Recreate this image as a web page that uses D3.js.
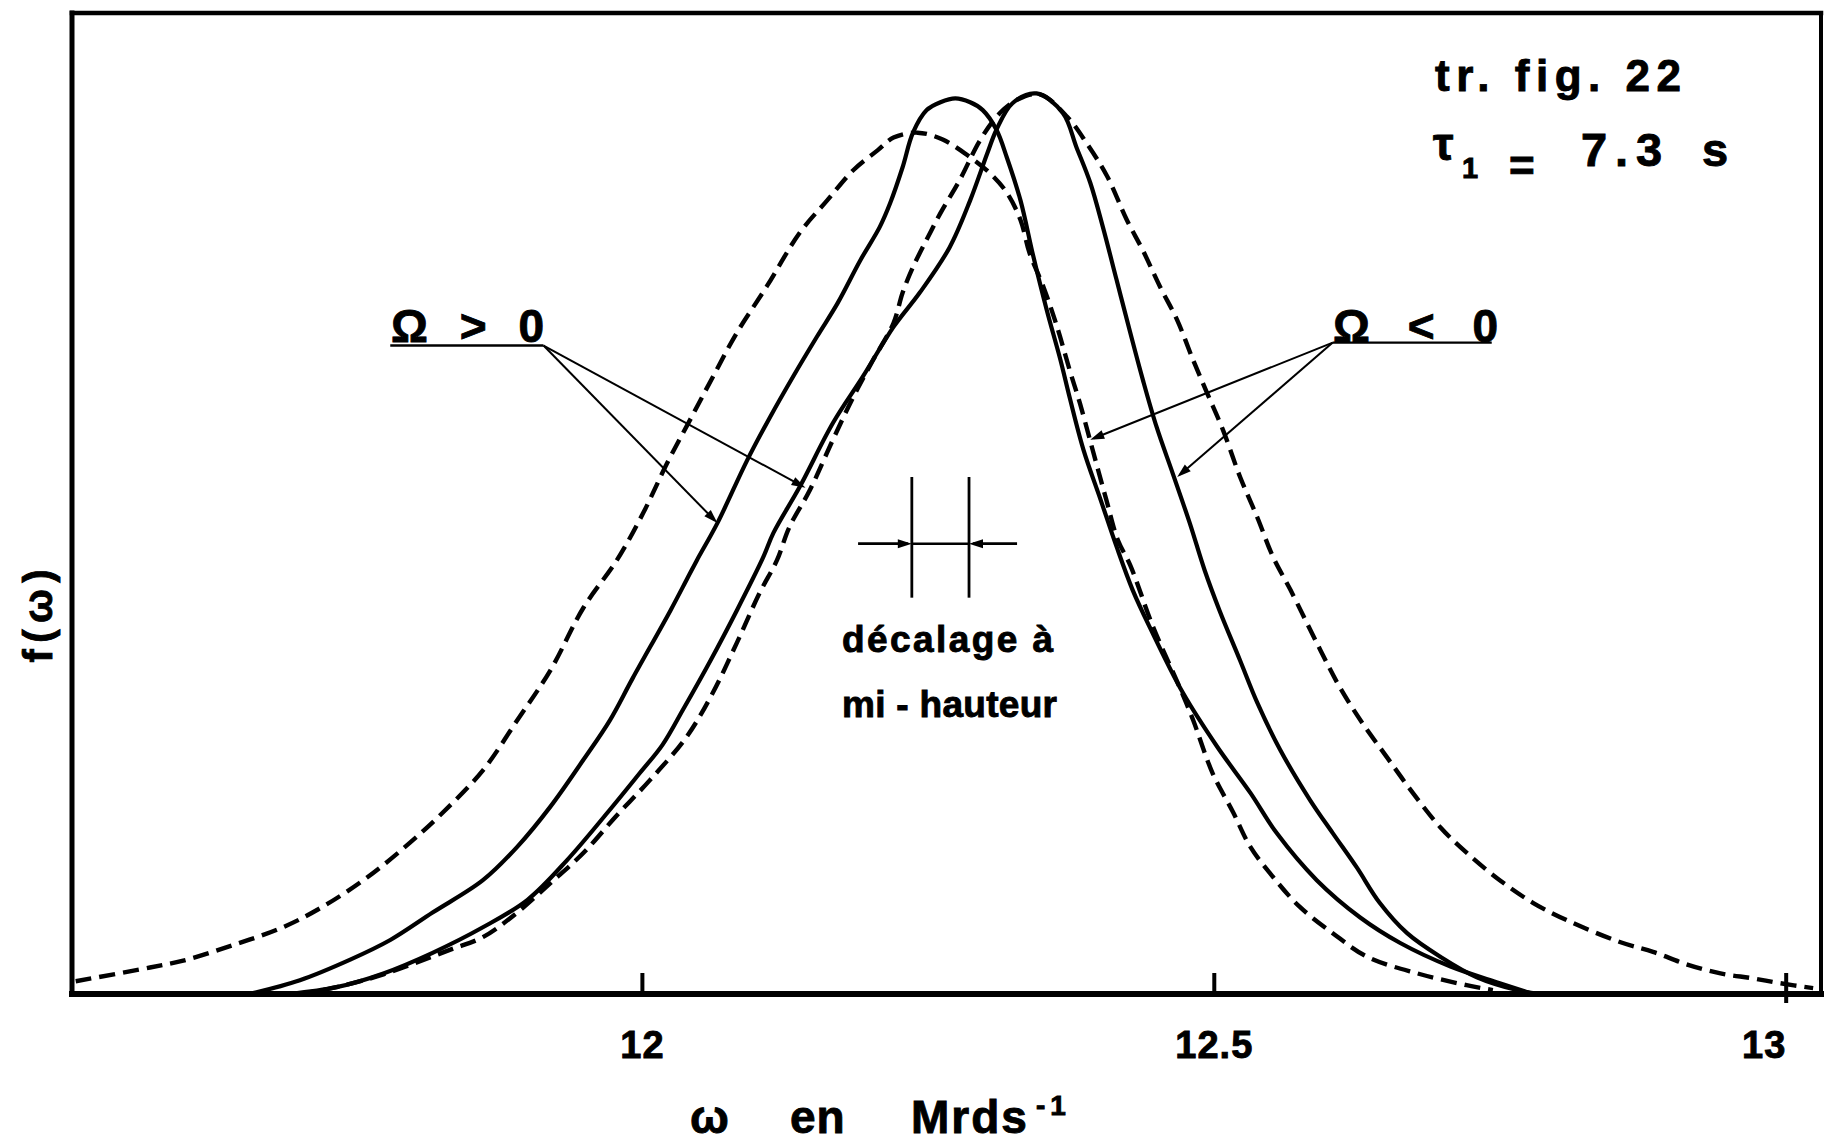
<!DOCTYPE html>
<html>
<head>
<meta charset="utf-8">
<script src="https://cdn.jsdelivr.net/npm/d3@7"></script>
<style>
  html, body { margin: 0; padding: 0; background: #fff; }
  svg { display: block; }
  text { font-family: "Liberation Sans", Arial, sans-serif; font-weight: bold; fill: #000;
         stroke: #000; stroke-width: 0.9px; paint-order: stroke; }
</style>
</head>
<body>
<svg id="chart" width="1824" height="1143"></svg>
<script>
// Line profiles f(ω), ω in Mrd s^-1, f in arbitrary units (0..100 = frame height)

// Ω > 0, measured profile (solid)
const omegaPlusSolid = [11.657, 11.701, 11.745, 11.780, 11.817, 11.861, 11.891, 11.920, 11.949, 11.972,
  11.992, 12.025, 12.039, 12.048, 12.066, 12.092, 12.112, 12.132, 12.153, 12.171, 12.191,
  12.208, 12.217, 12.228, 12.237, 12.249, 12.261, 12.274, 12.287, 12.298, 12.310, 12.319, 12.331,
  12.342, 12.354, 12.366, 12.374, 12.386, 12.401, 12.415, 12.429, 12.444, 12.473, 12.503, 12.532,
  12.555, 12.590, 12.628, 12.663, 12.707, 12.750, 12.779];
const fPlusSolid = [0, 1.4, 3.5, 5.5, 8.3, 11.6, 15.0, 19.1, 23.9, 27.9,
  32.2, 39.1, 42.2, 44.2, 48.0, 54.4, 58.8, 62.9, 67.0, 70.4, 74.8,
  78.2, 80.6, 84.3, 87.8, 90.1, 90.9, 91.3, 90.9, 90.1, 88.1, 85.3, 80.9,
  75.3, 69.7, 64.6, 60.8, 55.5, 50.4, 45.6, 41.2, 37.4, 30.7, 25.2, 20.5,
  16.4, 11.6, 7.8, 5.2, 2.8, 1.1, 0];

// Ω < 0, measured profile (solid)
const omegaMinusSolid = [11.692, 11.733, 11.774, 11.817, 11.861, 11.900, 11.935, 11.970, 11.998, 12.018,
  12.036, 12.060, 12.083, 12.106, 12.115, 12.138, 12.167, 12.193, 12.220, 12.243, 12.269, 12.287,
  12.302, 12.310, 12.324, 12.345, 12.368, 12.380, 12.392, 12.403, 12.415, 12.427, 12.438, 12.450,
  12.464, 12.479, 12.492, 12.505, 12.523, 12.538, 12.558, 12.584, 12.604, 12.625, 12.645, 12.669,
  12.698, 12.730, 12.765, 12.785];
const fMinusSolid = [0, 0.7, 2.1, 4.2, 6.8, 9.6, 13.7, 18.5, 22.5, 25.4,
  29.0, 34.0, 39.1, 44.5, 47.0, 51.7, 58.2, 62.9, 68.0, 71.5, 76.1, 80.9,
  85.7, 88.1, 90.8, 91.8, 89.8, 86.3, 82.7, 78.2, 72.8, 67.4, 62.6, 57.8,
  53.1, 48.0, 43.2, 39.1, 34.0, 29.7, 24.9, 19.8, 16.4, 12.9, 9.3, 6.2,
  3.8, 1.7, 0.4, 0];

// Ω > 0, computed profile (dashed)
const omegaPlusDashed = [11.505, 11.570, 11.599, 11.643, 11.686, 11.721, 11.760, 11.797, 11.826, 11.861,
  11.891, 11.920, 11.949, 11.978, 12.001, 12.022, 12.042, 12.062, 12.083, 12.109, 12.138, 12.162,
  12.185, 12.206, 12.220, 12.241, 12.263, 12.287, 12.304, 12.319, 12.331, 12.339, 12.351, 12.363,
  12.374, 12.383, 12.394, 12.406, 12.416, 12.427, 12.447, 12.470, 12.482, 12.499, 12.517, 12.532,
  12.552, 12.575, 12.604, 12.634, 12.678, 12.721, 12.744];
const fPlusDashed = [1.3, 2.7, 3.4, 5.0, 6.8, 8.9, 11.9, 15.4, 18.5, 22.8,
  27.9, 33.0, 39.4, 44.2, 49.0, 54.1, 58.5, 62.9, 67.4, 72.1, 77.6, 80.9,
  84.0, 86.0, 87.3, 87.8, 87.1, 85.3, 83.7, 81.7, 78.9, 75.5, 72.1, 68.0,
  63.6, 60.2, 55.5, 50.4, 46.3, 43.7, 37.4, 31.3, 27.9, 22.5, 18.5, 15.0,
  11.9, 8.9, 6.2, 3.8, 2.1, 0.9, 0.4];

// Ω < 0, computed profile (dashed)
const omegaMinusDashed = [11.701, 11.733, 11.774, 11.832, 11.861, 11.891, 11.920, 11.949, 11.978, 12.007,
  12.039, 12.062, 12.083, 12.103, 12.118, 12.129, 12.147, 12.167, 12.185, 12.202, 12.220, 12.228,
  12.237, 12.249, 12.261, 12.278, 12.296, 12.313, 12.329, 12.348, 12.372, 12.389, 12.407, 12.424,
  12.438, 12.453, 12.468, 12.482, 12.494, 12.508, 12.523, 12.538, 12.552, 12.567, 12.593, 12.610,
  12.630, 12.651, 12.674, 12.698, 12.721, 12.750, 12.779, 12.809, 12.855, 12.884, 12.914, 12.943,
  12.971, 12.995, 13.024];
const fMinusDashed = [0, 0.7, 2.0, 4.5, 5.8, 8.3, 11.3, 14.4, 18.2, 21.8,
  26.2, 30.7, 35.8, 40.9, 44.2, 47.6, 51.4, 56.5, 60.9, 64.6, 68.4, 71.5,
  74.1, 76.9, 79.6, 83.0, 87.1, 89.8, 91.2, 91.7, 89.4, 86.7, 83.3, 78.9,
  75.8, 72.1, 68.7, 64.6, 61.3, 57.5, 52.7, 48.6, 44.5, 41.2, 35.1, 31.3,
  27.6, 24.2, 20.5, 17.0, 14.4, 11.6, 9.3, 7.5, 5.3, 4.3, 3.0, 2.1,
  1.6, 1.1, 0.6];

// Axis ticks
const xTicks = [12, 12.5, 13];
const xTickLabels = ["12", "12.5", "13"];

// Annotation anchors (ω, f)
const plusLabelUnderline = [11.780, 11.914];   // at f = plusArrowFrom[1]
const plusArrowFrom = [11.914, 66.1];
const plusArrowTo = [[12.066, 48.0], [12.143, 51.6]];
const minusLabelUnderline = [12.604, 12.743];
const minusArrowFrom = [12.604, 66.4];
const minusArrowTo = [[12.392, 56.5], [12.468, 52.7]];
const halfWidthMarks = [12.236, 12.286];        // vertical bars
const halfWidthSpan = [40.4, 52.7];              // vertical extent of the bars
const halfWidthLevel = 45.9;                     // half of the peak height
const halfWidthArrowStarts = [12.189, 12.328];

const svg = d3.select("#chart");
const frame = { left: 72, right: 1821, top: 13, bottom: 994 };

const x = d3.scaleLinear().domain([11.5, 13.03]).range([70, 1820]);
const y = d3.scaleLinear().domain([0, 100]).range([994, 13]);

const line = d3.line()
  .x(d => x(d[0]))
  .y(d => y(d[1]))
  .curve(d3.curveCatmullRom.alpha(0.5));

const series = [
  { om: omegaPlusDashed,  f: fPlusDashed,  dashed: true },
  { om: omegaMinusDashed, f: fMinusDashed, dashed: true },
  { om: omegaPlusSolid,   f: fPlusSolid,   dashed: false },
  { om: omegaMinusSolid,  f: fMinusSolid,  dashed: false }
];

svg.append("g").selectAll("path")
  .data(series)
  .join("path")
  .attr("d", s => line(s.om.map((w, i) => [w, s.f[i]])))
  .attr("fill", "none")
  .attr("stroke", "#000")
  .attr("stroke-width", s => s.dashed ? 4.4 : 4.2)
  .attr("stroke-dasharray", s => s.dashed ? "16,8" : null)
  .attr("stroke-linejoin", "round");

// Frame
const fr = svg.append("g").attr("stroke", "#000").attr("fill", "none").attr("stroke-linecap", "square");
fr.append("line").attr("x1", frame.left).attr("x2", frame.right).attr("y1", frame.top).attr("y2", frame.top).attr("stroke-width", 4.5);
fr.append("line").attr("x1", frame.left).attr("x2", frame.left).attr("y1", frame.top).attr("y2", frame.bottom).attr("stroke-width", 5);
fr.append("line").attr("x1", frame.right).attr("x2", frame.right).attr("y1", frame.top).attr("y2", frame.bottom).attr("stroke-width", 4);
fr.append("line").attr("x1", frame.left).attr("x2", frame.right + 2).attr("y1", frame.bottom).attr("y2", frame.bottom).attr("stroke-width", 6);

// Bottom axis: ticks point inward
const xAxis = d3.axisBottom(x)
  .tickValues(xTicks)
  .tickFormat(d => xTickLabels[xTicks.indexOf(d)])
  .tickSizeInner(-21)
  .tickSizeOuter(0);

const gx = svg.append("g")
  .attr("transform", `translate(0,${frame.bottom})`)
  .call(xAxis);
gx.attr("font-family", null).attr("font-size", null);
gx.select(".domain").remove();
gx.selectAll(".tick line").attr("stroke", "#000").attr("stroke-width", 4);
gx.selectAll(".tick text")
  .attr("y", 64).attr("dy", 0)
  .attr("font-size", 38)
  .attr("letter-spacing", 1)
  .attr("fill", "#000");
gx.selectAll(".tick").filter(d => d === xTicks[xTicks.length - 1])
  .call(t => t.select("line").attr("y1", 9))
  .call(t => t.select("text").attr("dx", -22));

// Axis titles
svg.append("text")
  .attr("transform", "translate(52,616) rotate(-90)")
  .attr("text-anchor", "middle")
  .attr("font-size", 40)
  .attr("textLength", 93)
  .attr("lengthAdjust", "spacing")
  .text("f(ω)");

const xt = svg.append("text").attr("y", 1133).attr("font-size", 46);
xt.append("tspan").attr("x", 690).text("ω");
xt.append("tspan").attr("x", 790).attr("letter-spacing", 1).text("en");
xt.append("tspan").attr("x", 911).attr("letter-spacing", 2).text("Mrds");
xt.append("tspan").attr("x", 1036).attr("y", 1115).attr("font-size", 28).attr("letter-spacing", 5).text("-1");

// Figure reference and relaxation time
svg.append("text")
  .attr("x", 1435).attr("y", 91)
  .attr("font-size", 44)
  .attr("textLength", 246)
  .attr("lengthAdjust", "spacing")
  .text("tr. fig. 22");

const tau = svg.append("text").attr("font-size", 47);
tau.append("tspan").attr("x", 1433).attr("y", 160).attr("font-size", 46).text("τ");
tau.append("tspan").attr("x", 1462).attr("y", 178).attr("font-size", 29).text("1");
tau.append("tspan").attr("x", 1509).attr("y", 181).attr("font-size", 44).text("=");
tau.append("tspan").attr("x", 1581).attr("y", 166).text("7");
tau.append("tspan").attr("x", 1615).attr("y", 166).text(".");
tau.append("tspan").attr("x", 1636).attr("y", 166).text("3");
tau.append("tspan").attr("x", 1702).attr("y", 166).text("s");

// Ω labels with underline and pointer arrows
svg.append("text")
  .attr("x", 391).attr("y", 342)
  .attr("font-size", 46)
  .attr("textLength", 153)
  .attr("lengthAdjust", "spacing")
  .text("Ω > 0");
svg.append("text")
  .attr("x", 1333).attr("y", 342)
  .attr("font-size", 46)
  .attr("textLength", 165)
  .attr("lengthAdjust", "spacing")
  .text("Ω < 0");

const ann = svg.append("g").attr("stroke", "#000").attr("fill", "#000");

ann.append("line")
  .attr("x1", x(plusLabelUnderline[0])).attr("x2", x(plusLabelUnderline[1]))
  .attr("y1", y(plusArrowFrom[1])).attr("y2", y(plusArrowFrom[1]))
  .attr("stroke-width", 2.4);
ann.append("line")
  .attr("x1", x(minusLabelUnderline[0])).attr("x2", x(minusLabelUnderline[1]))
  .attr("y1", y(minusArrowFrom[1])).attr("y2", y(minusArrowFrom[1]))
  .attr("stroke-width", 2.4);

function arrow(from, to, width) {
  const x0 = x(from[0]), y0 = y(from[1]);
  const x1 = x(to[0]), y1 = y(to[1]);
  const a = Math.atan2(y1 - y0, x1 - x0);
  const len = 14, hw = 4.5;
  ann.append("line")
    .attr("x1", x0).attr("y1", y0)
    .attr("x2", x1 - Math.cos(a) * 4).attr("y2", y1 - Math.sin(a) * 4)
    .attr("stroke-width", width);
  const bx = x1 - Math.cos(a) * len, by = y1 - Math.sin(a) * len;
  const px = -Math.sin(a) * hw, py = Math.cos(a) * hw;
  ann.append("path")
    .attr("d", `M${x1},${y1}L${bx + px},${by + py}L${bx - px},${by - py}Z`)
    .attr("stroke", "none");
}

plusArrowTo.forEach(t => arrow(plusArrowFrom, t, 2));
minusArrowTo.forEach(t => arrow(minusArrowFrom, t, 2));

// Half-height shift marker
halfWidthMarks.forEach(w => {
  ann.append("line")
    .attr("x1", x(w)).attr("x2", x(w))
    .attr("y1", y(halfWidthSpan[1])).attr("y2", y(halfWidthSpan[0]))
    .attr("stroke-width", 2.8);
});
ann.append("line")
  .attr("x1", x(halfWidthMarks[0])).attr("x2", x(halfWidthMarks[1]))
  .attr("y1", y(halfWidthLevel)).attr("y2", y(halfWidthLevel))
  .attr("stroke-width", 2.6);
arrow([halfWidthArrowStarts[0], halfWidthLevel], [halfWidthMarks[0], halfWidthLevel], 2.8);
arrow([halfWidthArrowStarts[1], halfWidthLevel], [halfWidthMarks[1], halfWidthLevel], 2.8);

svg.append("text")
  .attr("x", 842).attr("y", 652)
  .attr("font-size", 37)
  .attr("textLength", 211)
  .attr("lengthAdjust", "spacing")
  .text("décalage à");
svg.append("text")
  .attr("x", 842).attr("y", 717)
  .attr("font-size", 37)
  .attr("textLength", 215)
  .attr("lengthAdjust", "spacing")
  .text("mi - hauteur");
</script>
</body>
</html>
